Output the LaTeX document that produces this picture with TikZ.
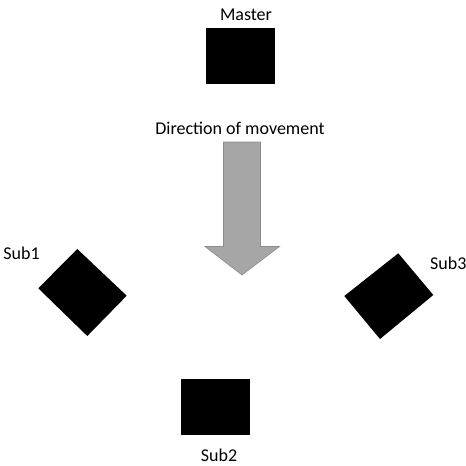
\documentclass[tikz,border=0pt]{standalone}
\usepackage{fontspec}
\setmainfont{Carlito}
\begin{document}
\begin{tikzpicture}[x=1pt,y=-1pt,
  lbl/.style={font=\fontsize{18}{21}\selectfont, inner sep=0pt},
  blk/.style={fill=black, draw=none},
  arrowshape/.style={fill=arrowgray, draw=arrowedge, line width=0.6pt, line join=miter}]
\definecolor{arrowgray}{HTML}{A6A6A6}
\definecolor{arrowedge}{HTML}{8C8C8C}
\useasboundingbox[fill=white] (0,0) rectangle (466,466);
% Master
\node[lbl] (masterlbl) at (246,15) {Master};
\fill[blk] (206,28) rectangle (275,84);
\node[lbl] (dirlbl) at (240,128) {Direction of movement};
% arrow
\draw[arrowshape] (223.5,142) -- (260.5,142) -- (260.5,246.5) -- (279.5,246.5) -- (242,275) -- (205,246.5) -- (223.5,246.5) -- cycle;
% Sub1
\fill[blk] (77.3,249) -- (126.7,295.7) -- (87.3,336) -- (38.3,288.3) -- cycle;
\node[lbl] (sub1lbl) at (21.5,253) {Sub1};
% Sub2
\fill[blk] (180.7,379.3) rectangle (250,435);
\node[lbl] (sub2lbl) at (219,455.5) {Sub2};
% Sub3
\fill[blk] (398.3,253.3) -- (433.3,295) -- (380,339) -- (344.3,296) -- cycle;
\node[lbl] (sub3lbl) at (448.3,263.3) {Sub3};
\end{tikzpicture}
\end{document}
